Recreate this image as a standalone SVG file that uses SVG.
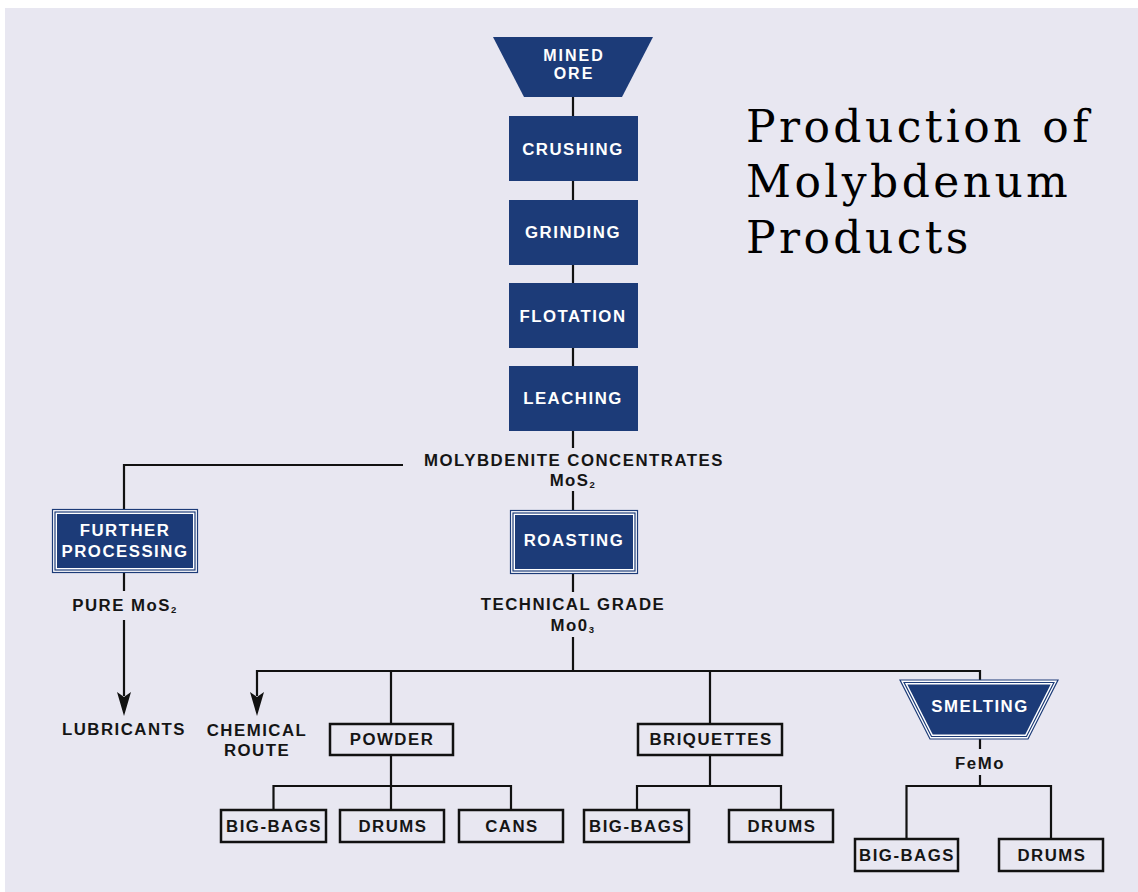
<svg xmlns="http://www.w3.org/2000/svg" width="1138" height="892" viewBox="0 0 1138 892">
<defs>
<style>
.bg{fill:#e8e7f1}
.n{fill:#1c3b78}
.ol{fill:#ffffff;stroke:#1c3b78;stroke-width:1.2}
.ml{fill:none;stroke:#1c3b78;stroke-width:1.2}
.wt{font-family:"Liberation Sans",Arial,sans-serif;font-weight:bold;font-size:16.8px;letter-spacing:1.5px;fill:#ffffff;text-anchor:middle}
.bt{font-family:"Liberation Sans",Arial,sans-serif;font-weight:bold;font-size:16.8px;letter-spacing:1.5px;fill:#151515;text-anchor:middle}
.ore{font-size:16px;letter-spacing:2px}
.bx{fill:#e8e7f1;stroke:#111111;stroke-width:2.5}
.c{fill:none;stroke:#111111;stroke-width:2.2}
.sub{font-size:9.5px}
.title{font-family:"DejaVu Serif","Liberation Serif",serif;font-size:44px;letter-spacing:3.4px;fill:#000000}
</style>
</defs>
<rect class="bg" x="5" y="8" width="1133" height="884"/>

<g id="title">
<text class="title" x="746" y="142">Production of</text>
<text class="title" x="746" y="197">Molybdenum</text>
<text class="title" x="746" y="253">Products</text>
</g>

<g id="connectors">
<path class="c" d="M573,97V116 M573,181V200 M573,265V283 M573,348V366 M573,431V448 M573,491V511 M573,574V592 M573,637V671"/>
<path class="c" d="M403,465H124V509"/>
<path class="c" d="M124,573V591 M124,620V696"/>
<path fill="#111111" d="M117,692 L124,716 L131,692 L124,697 Z"/>
<path class="c" d="M257,696V671H980V681"/>
<path fill="#111111" d="M250,692 L257,716 L264,692 L257,697 Z"/>
<path class="c" d="M391,671V724 M710,671V724"/>
<path class="c" d="M391,755V810 M273.5,810V786H511V810"/>
<path class="c" d="M710,755V786 M637,810V786H781V810"/>
<path class="c" d="M980,739V749 M980,775V786 M906.5,839V786H1051V839"/>
</g>

<g id="mined-ore">
<polygon class="n" points="493,37 653,37 622,97 524,97"/>
<text class="wt ore" x="574" y="61">MINED</text>
<text class="wt ore" x="574" y="79">ORE</text>
</g>

<g id="crushing">
<rect class="n" x="509" y="116" width="129" height="65"/>
<text class="wt" x="573" y="155">CRUSHING</text>
</g>

<g id="grinding">
<rect class="n" x="509" y="200" width="129" height="65"/>
<text class="wt" x="573" y="238">GRINDING</text>
</g>

<g id="flotation">
<rect class="n" x="509" y="283" width="129" height="65"/>
<text class="wt" x="573" y="322">FLOTATION</text>
</g>

<g id="leaching">
<rect class="n" x="509" y="366" width="129" height="65"/>
<text class="wt" x="573" y="404">LEACHING</text>
</g>

<g id="molybdenite-concentrates">
<text class="bt" x="574" y="466">MOLYBDENITE CONCENTRATES</text>
<text class="bt" x="573" y="486">MoS<tspan class="sub" dy="2">2</tspan></text>
</g>

<g id="further-processing">
<rect class="ol" x="52.5" y="509.5" width="145" height="63"/>
<rect class="ml" x="55" y="512" width="140" height="58"/>
<rect class="n" x="57" y="514" width="136" height="54"/>
<text class="wt" x="125" y="536">FURTHER</text>
<text class="wt" x="125" y="557">PROCESSING</text>
</g>

<g id="pure-mos2">
<text class="bt" x="125" y="611">PURE MoS<tspan class="sub" dy="2">2</tspan></text>
</g>

<g id="lubricants">
<text class="bt" x="124" y="735">LUBRICANTS</text>
</g>

<g id="roasting">
<rect class="ol" x="510.5" y="510.5" width="127" height="63"/>
<rect class="ml" x="513" y="513" width="122" height="58"/>
<rect class="n" x="515" y="515" width="118" height="54"/>
<text class="wt" x="574" y="546">ROASTING</text>
</g>

<g id="technical-grade">
<text class="bt" x="573" y="610">TECHNICAL GRADE</text>
<text class="bt" x="573" y="631">Mo0<tspan class="sub" dy="2">3</tspan></text>
</g>

<g id="chemical-route">
<text class="bt" x="257" y="736">CHEMICAL</text>
<text class="bt" x="257" y="756">ROUTE</text>
</g>

<g id="powder">
<rect class="bx" x="330" y="724" width="123" height="31"/>
<text class="bt" x="392" y="745">POWDER</text>
</g>

<g id="powder-big-bags">
<rect class="bx" x="221" y="810" width="105" height="32"/>
<text class="bt" x="274" y="832">BIG-BAGS</text>
</g>
<g id="powder-drums">
<rect class="bx" x="340" y="810" width="104" height="32"/>
<text class="bt" x="393" y="832">DRUMS</text>
</g>
<g id="powder-cans">
<rect class="bx" x="459" y="810" width="104" height="32"/>
<text class="bt" x="512" y="832">CANS</text>
</g>

<g id="briquettes">
<rect class="bx" x="638" y="724" width="144" height="31"/>
<text class="bt" x="711" y="745">BRIQUETTES</text>
</g>
<g id="briquettes-big-bags">
<rect class="bx" x="584" y="810" width="105" height="32"/>
<text class="bt" x="637" y="832">BIG-BAGS</text>
</g>
<g id="briquettes-drums">
<rect class="bx" x="729" y="810" width="104" height="32"/>
<text class="bt" x="782" y="832">DRUMS</text>
</g>

<g id="smelting">
<polygon class="ol" points="900,680 1058,680 1028,739 930,739"/>
<polygon class="ml" points="904.07,682.5 1053.93,682.5 1026.5,736.5 931.5,736.5"/>
<polygon class="n" points="907.34,684.5 1050.66,684.5 1025.26,734.5 932.74,734.5"/>
<text class="wt" x="980" y="712">SMELTING</text>
</g>

<g id="femo">
<text class="bt" x="980" y="769">FeMo</text>
</g>

<g id="smelting-big-bags">
<rect class="bx" x="855" y="839" width="103" height="32"/>
<text class="bt" x="907" y="861">BIG-BAGS</text>
</g>
<g id="smelting-drums">
<rect class="bx" x="999" y="839" width="104" height="32"/>
<text class="bt" x="1052" y="861">DRUMS</text>
</g>
</svg>
